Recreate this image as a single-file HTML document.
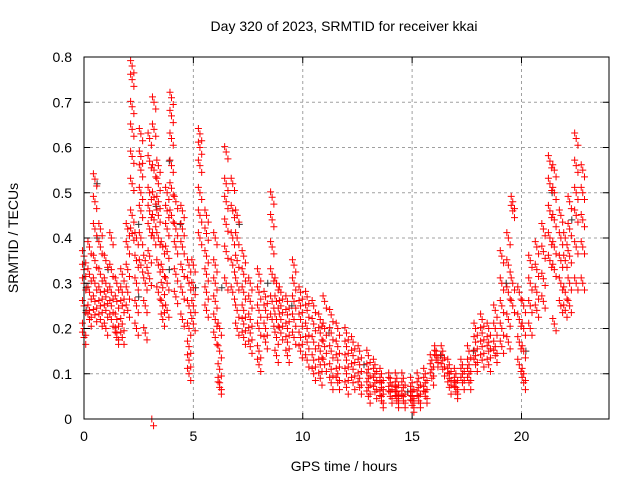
<!DOCTYPE html>
<html><head><meta charset="utf-8"><style>
body{margin:0;background:#fff;}
svg text{font-family:"Liberation Sans",sans-serif;font-size:14px;fill:#000;}
</style></head><body>
<svg id="chart" width="640" height="480" xmlns="http://www.w3.org/2000/svg">
<text x="344" y="31" text-anchor="middle">Day 320 of 2023, SRMTID for receiver kkai</text>
<text x="344" y="471" text-anchor="middle">GPS time / hours</text>
<text x="18" y="238" text-anchor="middle" transform="rotate(-90 18 238)">SRMTID / TECUs</text>
<g id="grid"></g><g id="marks"></g><g id="axes"></g>
</svg>
<script>
const xTicks=[0,5,10,15,20];
const yTicks=[0,0.1,0.2,0.3,0.4,0.5,0.6,0.7,0.8];
const yTickLabels=["0","0.1","0.2","0.3","0.4","0.5","0.6","0.7","0.8"];
const redTimes=[0,0.25,0.5,0.75,1.0,1.25,1.5,1.75,2.0,2.2,2.4,2.6,2.8,3.0,3.1,3.2,3.4,3.6,3.8,4.0,4.2,4.5,4.8,5.0,5.3,5.6,6.0,6.2,6.5,6.8,7.0,7.3,7.6,8.0,8.3,8.6,8.8,9.0,9.3,9.6,9.9,10.2,10.5,10.8,11.0,11.3,11.6,12.0,12.3,12.6,13.0,13.3,13.6,14.0,14.3,14.6,15.0,15.3,15.6,15.9,16.1,16.4,16.7,17.0,17.3,17.6,17.9,18.2,18.5,18.8,19.1,19.4,19.6,19.9,20.1,20.4,20.7,21.0,21.3,21.5,21.8,22.0,22.2,22.5,22.8];
const redVals=[[.36,.30,.25,.20,.18,.33],[.38,.32,.28,.24,.22],[.53,.48,.42,.35,.30,.26,.23],[.42,.38,.32,.28,.25,.22],[.35,.30,.27,.24,.20],[.40,.33,.28,.25,.22],[.30,.26,.22,.19,.18],[.32,.28,.25,.21,.18],[.42,.38,.33,.28,.24],[.78,.75,.69,.64,.58,.52,.45,.41],[.40,.35,.30,.25,.20],[.63,.58,.55,.50,.46,.40,.34],[.35,.30,.25,.19],[.62,.57,.50,.46,.42,.36,.31],[0],[.70,.64,.55,.49,.44,.40],[.56,.52,.48,.45,.40,.34,.28],[.38,.33,.29,.25,.22],[.50,.46,.42,.37,.30,.24],[.71,.67,.62,.56,.51,.45],[.48,.42,.38,.32,.27],[.46,.42,.38,.33,.28,.22],[.34,.30,.25,.20,.16,.13,.10],[.34,.29,.25,.21],[.63,.60,.56,.50,.45,.40],[.45,.41,.36,.32,.28,.24],[.40,.34,.30,.26,.22,.18],[.20,.15,.11,.08,.07],[.59,.52,.48,.43,.37,.30],[.52,.46,.40,.34,.28],[.45,.40,.35,.30,.24,.20],[.36,.32,.28,.24,.21,.18],[.30,.26,.22,.19,.16],[.32,.28,.24,.20,.15,.12],[.27,.24,.20,.17],[.49,.44,.38,.32,.26,.22],[.30,.26,.22,.18,.14],[.28,.25,.22,.19],[.26,.23,.20,.17,.14],[.34,.30,.26,.22,.18],[.28,.25,.22,.18,.15],[.27,.24,.20,.17,.13],[.25,.21,.17,.13,.10],[.22,.19,.15,.12,.09],[.26,.20,.16,.12],[.23,.19,.15,.11,.08],[.20,.16,.13,.10,.08],[.19,.16,.13,.10,.07],[.17,.14,.11,.08],[.15,.12,.09,.07],[.14,.11,.09,.07,.05],[.12,.10,.08,.06],[.10,.08,.07,.05,.04],[.09,.08,.06,.05],[.09,.07,.06,.05,.04],[.09,.07,.05,.04],[.08,.06,.05,.04,.03],[.09,.07,.05,.04],[.10,.08,.06,.05],[.13,.11,.09],[.15,.14,.13],[.15,.13,.11],[.12,.10,.09,.07],[.10,.08,.07,.06],[.12,.10,.08],[.15,.12,.10,.08],[.20,.17,.14,.12],[.22,.19,.16,.13],[.20,.17,.15,.12],[.24,.20,.16,.14],[.36,.30,.25,.20,.16],[.40,.34,.28,.22,.17],[.48,.46,.30,.25],[.28,.22,.17,.12],[.25,.20,.15,.10,.08],[.35,.30,.25,.20],[.38,.33,.28,.24],[.42,.37,.31,.26],[.57,.52,.46,.40,.35],[.55,.50,.44,.38,.33,.21],[.45,.40,.35,.30,.25],[.40,.35,.28,.24],[.48,.42,.36,.30,.25],[.62,.56,.50,.45,.38,.30],[.55,.50,.44,.38,.30]];
const blackTimes=[0.1,0.6,1.1,2.5,3.3,3.9,4.4,5.1,6.3,7.1,8.4,9.5,11.2,12.8,14.8,16.3,17.8,19.3,20.2,21.4,22.3];
const blackVals=[[.29,.24],[.52,.40],[.33],[.43,.27],[.47],[.57,.33],[.43],[.29],[.29],[.43],[.30],[.25],[.19],[.12],[.06],[.14],[.15],[.30],[.15],[.50],[.44]];
const X0=84,X1=609,Y0=419,Y1=57;
function xs(v){return X0+v/24*(X1-X0);}
function ys(v){return Y0-v/0.8*(Y0-Y1);}
const NS="http://www.w3.org/2000/svg";
function mk(tag,attrs,parent){const e=document.createElementNS(NS,tag);for(const k in attrs)e.setAttribute(k,attrs[k]);parent.appendChild(e);return e;}
const grid=document.getElementById('grid'),axes=document.getElementById('axes'),marks=document.getElementById('marks');
xTicks.forEach(t=>{const x=xs(t);
 if(t>0){const g=mk('line',{x1:x,x2:x,y1:Y1,y2:Y0,stroke:'#a0a0a0','stroke-dasharray':'3,3'},grid);}
 const tk=mk('path',{d:`M${x},${Y0}v-6M${x},${Y1}v6`,stroke:'#000'},axes);
 const tx=mk('text',{x:x,y:Y0+22,'text-anchor':'middle'},axes);tx.textContent=t;
});
yTicks.forEach((t,i)=>{const y=ys(t);
 if(t>0&&t<0.8){const g=mk('line',{x1:X0,x2:X1,y1:y,y2:y,stroke:'#a0a0a0','stroke-dasharray':'3,3'},grid);}
 const tk=mk('path',{d:`M${X0},${y}h6M${X1},${y}h-6`,stroke:'#000'},axes);
 const tx=mk('text',{x:X0-12,y:y+5,'text-anchor':'end'},axes);tx.textContent=yTickLabels[i];
});
const fr=mk('rect',{x:X0,y:Y1,width:X1-X0,height:Y0-Y1,fill:'none',stroke:'#000'},axes);

function plus(t,v,col){const x=xs(t),y=ys(v);
 const p=mk('path',{d:`M${x-3.5},${y}h7M${x},${y-3.5}v7`,stroke:col,'stroke-width':1},marks);
 
 }
blackTimes.forEach((t,i)=>blackVals[i].forEach(v=>plus(t,v,'#333')));
redTimes.forEach((t,i)=>redVals[i].forEach(v=>{plus(t,v,'#f00');plus(t+0.08,v-0.015,'#f00');if(v>0)plus(t-0.07,v+0.012,'#f00');}));
</script>
</body></html>
